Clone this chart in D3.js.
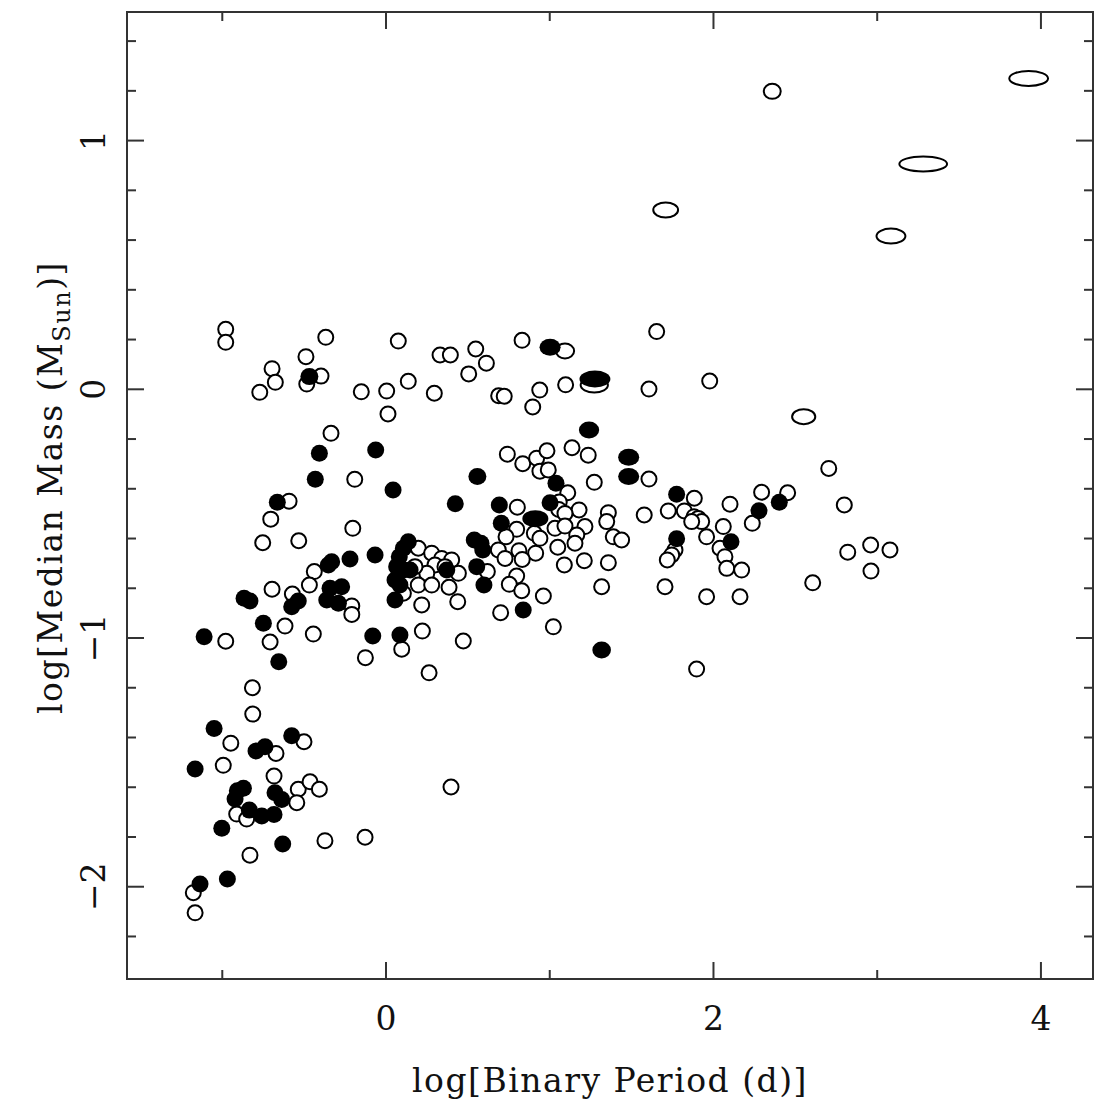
<!DOCTYPE html>
<html>
<head>
<meta charset="utf-8">
<script src="https://cdn.jsdelivr.net/npm/d3@7"></script>
<style>
  body { margin: 0; background: #fff; }
  svg text { font-family: "DejaVu Serif", serif; fill: #111; }
</style>
</head>
<body>
<svg id="chart" width="1096" height="1103"></svg>
<script>
// Binary systems: [log P (days), log median mass (M_sun)]
const openPoints = [
  [1.653,0.232],[1.606,0.001],[1.977,0.033],
  [-0.979,0.241],[-0.979,0.189],[-0.368,0.209],[-0.489,0.131],[-0.696,0.083],[-0.676,0.028],[-0.771,-0.012],
  [-0.397,0.053],[-0.484,0.021],[-0.151,-0.010],[0.004,-0.007],[0.012,-0.099],[-0.336,-0.177],[-0.191,-0.362],
  [-0.592,-0.450],[-0.704,-0.522],
  [0.075,0.194],[0.330,0.138],[0.393,0.138],[0.548,0.162],[0.613,0.105],[0.505,0.062],[0.831,0.197],[1.097,0.018],
  [0.939,-0.003],[0.896,-0.071],[0.688,-0.026],[0.722,-0.028],[0.136,0.032],[0.295,-0.016],
  [0.741,-0.261],[0.835,-0.299],[0.920,-0.277],[0.983,-0.247],[1.136,-0.235],[1.235,-0.265],[0.940,-0.329],
  [0.991,-0.324],[1.272,-0.374],[1.110,-0.416],[0.802,-0.474],[1.058,-0.453],[1.055,-0.483],[1.179,-0.485],
  [1.358,-0.496],[1.093,-0.499],
  [0.798,-0.563],[0.733,-0.593],[0.906,-0.579],[0.940,-0.599],[1.032,-0.559],[1.093,-0.550],[1.049,-0.635],
  [1.089,-0.706],[0.914,-0.659],[0.812,-0.649],[0.832,-0.684],[0.686,-0.646],[0.727,-0.680],[0.619,-0.733],
  [0.798,-0.751],[0.753,-0.784],[0.829,-0.810],[0.961,-0.831],[0.700,-0.898],
  [0.197,-0.639],[0.279,-0.659],[0.340,-0.680],[0.401,-0.686],[0.299,-0.706],[0.360,-0.713],[0.442,-0.740],
  [0.249,-0.740],[0.197,-0.787],[0.279,-0.787],[0.385,-0.796],[0.106,-0.820],[0.218,-0.867],[0.438,-0.854],
  [0.177,-0.713],
  [0.096,-1.045],[0.222,-0.972],[0.472,-1.012],[0.263,-1.140],[1.022,-0.955],[1.317,-0.794],[1.211,-0.689],
  [1.358,-0.697],[1.388,-0.593],[1.439,-0.606],[1.348,-0.532],[1.215,-0.552],[1.165,-0.586],[1.154,-0.619],
  [1.577,-0.505],
  [1.606,-0.361],[1.883,-0.438],[1.724,-0.489],[1.822,-0.489],[1.881,-0.512],[1.907,-0.519],[1.928,-0.532],
  [1.867,-0.532],[1.958,-0.593],[2.101,-0.462],[2.060,-0.552],[2.040,-0.639],[2.070,-0.673],[2.081,-0.720],
  [2.172,-0.727],[2.294,-0.414],[2.237,-0.539],[2.453,-0.416],[1.765,-0.646],[1.745,-0.666],[1.718,-0.686],
  [1.704,-0.794],[1.958,-0.834],[2.162,-0.834],[1.897,-1.125],[2.606,-0.778],[2.820,-0.655],[2.960,-0.626],
  [2.962,-0.731],[3.078,-0.646],[2.704,-0.318],[2.799,-0.465],
  [-0.753,-0.617],[-0.533,-0.609],[-0.203,-0.559],[-0.438,-0.733],[-0.468,-0.787],[-0.209,-0.871],[-0.209,-0.905],
  [-0.696,-0.804],[-0.572,-0.823],[-0.617,-0.952],[-0.444,-0.984],[-0.708,-1.016],[-0.979,-1.013],[-0.126,-1.079],
  [-0.816,-1.200],[-0.814,-1.306],[-0.948,-1.423],[-0.501,-1.417],[-0.672,-1.464],[-0.994,-1.512],[-0.684,-1.555],
  [-0.536,-1.608],[-0.464,-1.578],[-0.407,-1.608],[-0.545,-1.662],[-0.912,-1.708],[-0.851,-1.728],[-0.373,-1.815],
  [-0.128,-1.801],[0.397,-1.599],[-0.831,-1.873],[-1.177,-2.024],[-1.166,-2.105]
];

const filledPoints = [
  [-0.407,-0.257],[-0.063,-0.244],[-0.432,-0.362],[0.043,-0.405],[-0.664,-0.454],
  [0.423,-0.460],[0.692,-0.465],[1.038,-0.378],[1.002,-0.456],[0.704,-0.539],[0.539,-0.606],[0.580,-0.619],
  [0.591,-0.646],[0.554,-0.713],[0.598,-0.787],[0.838,-0.887],[-0.067,-0.666],
  [0.136,-0.613],[0.106,-0.639],[0.081,-0.673],[0.065,-0.713],[0.106,-0.727],[0.055,-0.767],[0.085,-0.787],
  [0.055,-0.847],[0.147,-0.727],[0.371,-0.727],[0.085,-0.988],
  [1.775,-0.422],[2.107,-0.613],[2.278,-0.488],[2.402,-0.454],[1.775,-0.601],
  [-0.332,-0.693],[-0.352,-0.706],[-0.220,-0.682],[-0.342,-0.800],[-0.271,-0.794],[-0.362,-0.847],[-0.291,-0.860],
  [-0.867,-0.840],[-0.831,-0.851],[-0.536,-0.851],[-0.576,-0.874],[-0.749,-0.941],[-1.111,-0.995],[-0.655,-1.095],
  [-0.081,-0.992],
  [-1.050,-1.364],[-0.576,-1.393],[-0.794,-1.454],[-0.739,-1.437],[-1.166,-1.527],[-0.871,-1.604],[-0.908,-1.614],
  [-0.922,-1.647],[-0.678,-1.622],[-0.637,-1.649],[-0.835,-1.692],[-0.759,-1.716],[-0.684,-1.710],[-1.003,-1.765],
  [-0.631,-1.828],[-0.969,-1.969],[-1.136,-1.989]
];

// Systems with a spread in period: [log P, log M, filled (1) / open (0), period spread in dex]
const widePoints = [
  [3.925,1.250,0,0.145],[2.359,1.198,0,0.012],[3.281,0.906,0,0.200],[1.708,0.721,0,0.060],
  [3.084,0.616,0,0.085],[2.551,-0.110,0,0.050],
  [1.093,0.154,0,0.020],[1.272,0.017,0,0.075],
  [-0.468,0.051,1,0.006],[1.002,0.169,1,0.025],[1.276,0.041,1,0.085],[1.240,-0.164,1,0.020],
  [1.482,-0.273,1,0.025],[1.482,-0.351,1,0.025],[0.558,-0.351,1,0.006],[0.912,-0.520,1,0.055],
  [1.317,-1.048,1,0.010]
];

const xMajorTicks = [0, 2, 4];
const xMinorTicks = [-1, 1, 3];
const yMajorTicks = [-2, -1, 0, 1];
const yMinorTicks = [-2.2, -1.8, -1.6, -1.4, -1.2, -0.8, -0.6, -0.4, -0.2,
                     0.2, 0.4, 0.6, 0.8, 1.2, 1.4];
const xTitle = "log[Binary Period (d)]";

const svg = d3.select("#chart");
const frameL = 127, frameR = 1093, frameT = 12, frameB = 979;

const x = d3.scaleLinear().domain([-1.582, 4.318]).range([frameL, frameR]);
const y = d3.scaleLinear().domain([-2.371, 1.517]).range([frameB, frameT]);

const R = 7.5;
const ink = "#000";
const frameColor = "#333";

// Plot frame
svg.append("rect")
  .attr("x", frameL).attr("y", frameT)
  .attr("width", frameR - frameL).attr("height", frameB - frameT)
  .attr("fill", "none").attr("stroke", frameColor).attr("stroke-width", 2);

// Inward ticks on all four sides
const majorLen = 17, minorLen = 9;
function xTicks(values, len) {
  [[frameB, -1], [frameT, 1]].forEach(([y0, dir]) => {
    svg.append("g").selectAll("line").data(values).join("line")
      .attr("x1", d => x(d)).attr("x2", d => x(d))
      .attr("y1", y0).attr("y2", y0 + dir * len)
      .attr("stroke", frameColor).attr("stroke-width", 2);
  });
}
function yTicks(values, len) {
  [[frameL, 1], [frameR, -1]].forEach(([x0, dir]) => {
    svg.append("g").selectAll("line").data(values).join("line")
      .attr("y1", d => y(d)).attr("y2", d => y(d))
      .attr("x1", x0).attr("x2", x0 + dir * len)
      .attr("stroke", frameColor).attr("stroke-width", 2);
  });
}
xTicks(xMajorTicks, majorLen);
xTicks(xMinorTicks, minorLen);
yTicks(yMajorTicks, majorLen);
yTicks(yMinorTicks, minorLen);

const fmt = d => d < 0 ? "\u2212" + Math.abs(d) : String(d);

svg.append("g").selectAll("text").data(xMajorTicks).join("text")
  .attr("x", d => x(d)).attr("y", 1030)
  .attr("text-anchor", "middle").attr("font-size", 33)
  .text(fmt);

svg.append("g").selectAll("text").data(yMajorTicks).join("text")
  .attr("transform", d => `translate(105,${y(d)}) rotate(-90)`)
  .attr("text-anchor", "middle").attr("font-size", 33)
  .text(fmt);

// Axis titles
svg.append("text")
  .attr("x", (frameL + frameR) / 2).attr("y", 1092)
  .attr("text-anchor", "middle").attr("font-size", 33)
  .attr("letter-spacing", 1.5)
  .text(xTitle);

const yTitle = svg.append("text")
  .attr("transform", `translate(62,${(frameT + frameB) / 2 - 8}) rotate(-90)`)
  .attr("text-anchor", "middle").attr("font-size", 33)
  .attr("letter-spacing", 1.5);
yTitle.append("tspan").text("log[Median Mass (M");
yTitle.append("tspan").attr("font-size", 24).attr("dy", 8).text("Sun");
yTitle.append("tspan").attr("dy", -8).text(")]");

// Markers
const plot = svg.append("g");
plot.selectAll("circle.open").data(openPoints).join("circle")
  .attr("class", "open")
  .attr("cx", d => x(d[0])).attr("cy", d => y(d[1])).attr("r", R)
  .attr("fill", "#fff").attr("stroke", ink).attr("stroke-width", 2);

plot.selectAll("ellipse.wideOpen").data(widePoints.filter(d => !d[2])).join("ellipse")
  .attr("class", "wideOpen")
  .attr("cx", d => x(d[0])).attr("cy", d => y(d[1]))
  .attr("rx", d => R + (x(d[3]) - x(0)) / 2).attr("ry", R)
  .attr("fill", "#fff").attr("stroke", ink).attr("stroke-width", 2);

plot.selectAll("circle.filled").data(filledPoints).join("circle")
  .attr("class", "filled")
  .attr("cx", d => x(d[0])).attr("cy", d => y(d[1])).attr("r", R + 1)
  .attr("fill", ink);

plot.selectAll("ellipse.wideFilled").data(widePoints.filter(d => d[2])).join("ellipse")
  .attr("class", "wideFilled")
  .attr("cx", d => x(d[0])).attr("cy", d => y(d[1]))
  .attr("rx", d => R + 1 + (x(d[3]) - x(0)) / 2).attr("ry", R + 1)
  .attr("fill", ink);
</script>
</body>
</html>
